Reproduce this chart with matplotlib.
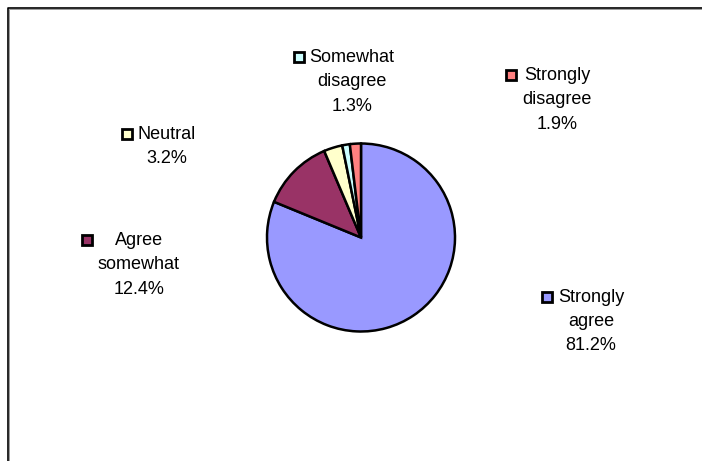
import matplotlib
matplotlib.use("Agg")
import matplotlib.pyplot as plt
from matplotlib.patches import Rectangle

# ---- data ----
categories = ["Strongly agree", "Agree somewhat", "Neutral",
              "Somewhat disagree", "Strongly disagree"]
label_lines = [["Strongly", "agree"], ["Agree", "somewhat"], ["Neutral"],
               ["Somewhat", "disagree"], ["Strongly", "disagree"]]
percentages = [81.2, 12.4, 3.2, 1.3, 1.9]
colors = ["#9999FF", "#993366", "#FFFFCC", "#CCFFFF", "#FF8080"]

# ---- layout (pixel positions, y measured from top) ----
W, H = 702, 461
pie_center = (361, 237.5)
pie_radius = 94
label_pos = [(591, 297), (139, 240), (167, 134), (352, 57), (557, 75)]
line_step = 24.5
FONT = "Liberation Sans"
FS = 13

fig = plt.figure(figsize=(W / 100, H / 100), dpi=100)
ax = fig.add_axes([0, 0, 1, 1])

ax.pie(percentages, colors=colors, startangle=90, counterclock=False,
       center=(pie_center[0], H - pie_center[1]), radius=pie_radius,
       wedgeprops=dict(edgecolor="black", linewidth=1.8))
ax.set_xlim(0, W)
ax.set_ylim(0, H)
ax.set_aspect("equal")
ax.axis("off")

# frame
ax.plot([8, 8, W + 5], [-5, H - 8, H - 8], color="black", lw=1.2,
        solid_capstyle="butt", clip_on=False)
ax.plot([9.2, 9.2, W + 5], [-5, H - 9.2, H - 9.2], color="#9a9a9a", lw=0.7,
        solid_capstyle="butt", clip_on=False)

texts = []
for lines, pct, (cx, y1) in zip(label_lines, percentages, label_pos):
    all_lines = lines + [f"{pct:.1f}%"]
    group = []
    for i, ln in enumerate(all_lines):
        t = ax.text(cx, H - (y1 + i * line_step), ln, ha="center", va="center",
                    fontsize=FS, family=FONT, color="black")
        group.append(t)
    texts.append(group)

fig.canvas.draw()
renderer = fig.canvas.get_renderer()
for group, col, (cx, y1) in zip(texts, colors, label_pos):
    x0 = min(t.get_window_extent(renderer).x0 for t in group)
    size = 10
    ax.add_patch(Rectangle((x0 - 5 - size - 1, H - y1 - size / 2), size, size,
                           facecolor=col, edgecolor="black", linewidth=2.0))

fig.savefig("out.png", dpi=100)
